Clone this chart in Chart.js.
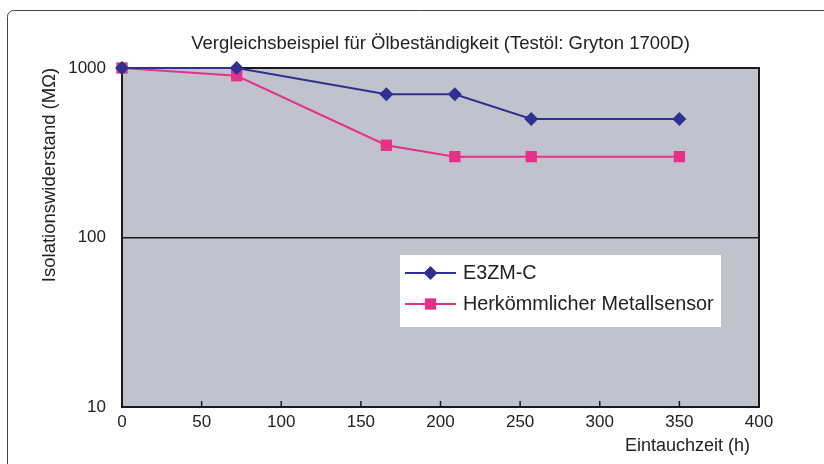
<!DOCTYPE html>
<html>
<head>
<meta charset="utf-8">
<script src="https://cdn.jsdelivr.net/npm/chart.js@4.4.1/dist/chart.umd.min.js"></script>
<style>
    html, body { margin: 0; padding: 0; background: #fff; }
    #wrap { width: 824px; height: 464px; position: relative; }
</style>
</head>
<body>
<div id="wrap"><canvas id="chart" width="824" height="464"></canvas></div>
<script>
// --- Data ---
const hoursE3ZM = [0, 72, 166, 209, 257, 350];
const valuesE3ZM = [1000, 1000, 700, 700, 500, 500];
const hoursMetal = [0, 72, 166, 209, 257, 350];
const valuesMetal = [1000, 900, 350, 300, 300, 300];
const seriesNames = ['E3ZM-C', 'Herkömmlicher Metallsensor'];
const xTicks = [0, 50, 100, 150, 200, 250, 300, 350, 400];
const yTickLabels = [10, 100, 1000];

const chartTitle = 'Vergleichsbeispiel für Ölbeständigkeit (Testöl: Gryton 1700D)';
const yTitle = 'Isolationswiderstand (MΩ)';
const xTitle = 'Eintauchzeit (h)';

const NAVY = '#2e3192';
const PINK = '#e5318c';
const PLOT_BG = '#c1c3cc';
const FONT = 'Arial, "Liberation Sans", sans-serif';

function toPoints(xs, ys) {
    return xs.map((x, i) => ({ x: x, y: ys[i] }));
}

// --- Plugin: frame, plot background, borders, ticks, titles, legend ---
const decorations = {
    id: 'decorations',
    beforeDraw(chart) {
        const { ctx, chartArea: a } = chart;
        ctx.save();
        // outer frame (top-left rounded corner only visible)
        ctx.strokeStyle = '#444';
        ctx.lineWidth = 1;
        ctx.beginPath();
        ctx.moveTo(7.5, 470);
        ctx.lineTo(7.5, 16.5);
        ctx.arcTo(7.5, 10.5, 13.5, 10.5, 6);
        ctx.lineTo(830, 10.5);
        ctx.stroke();
        // plot background
        ctx.fillStyle = PLOT_BG;
        ctx.fillRect(a.left, a.top, a.right - a.left, a.bottom - a.top);
        ctx.restore();
    },
    beforeDatasetsDraw(chart) {
        const { ctx, chartArea: a, scales } = chart;
        ctx.save();
        // plot border
        ctx.strokeStyle = '#1a1a1a';
        ctx.lineWidth = 2;
        ctx.strokeRect(a.left, a.top, a.right - a.left, a.bottom - a.top);
        // inward x tick marks
        ctx.lineWidth = 1.5;
        xTicks.forEach(v => {
            const px = scales.x.getPixelForValue(v);
            ctx.beginPath();
            ctx.moveTo(px, a.bottom);
            ctx.lineTo(px, a.bottom - 6);
            ctx.stroke();
        });
        ctx.restore();
    },
    afterDraw(chart) {
        const { ctx, chartArea: a } = chart;
        ctx.save();
        ctx.fillStyle = '#222';
        // title
        ctx.font = '18.5px ' + FONT;
        ctx.textAlign = 'center';
        ctx.textBaseline = 'middle';
        ctx.fillText(chartTitle, (a.left + a.right) / 2, 44);
        // x title
        ctx.font = '18px ' + FONT;
        ctx.textAlign = 'right';
        ctx.fillText(xTitle, 750, 446);
        // y title
        ctx.font = '18.5px ' + FONT;
        ctx.translate(50, 175);
        ctx.rotate(-Math.PI / 2);
        ctx.textAlign = 'center';
        ctx.fillText(yTitle, 0, 0);
        ctx.restore();

        // legend box
        ctx.save();
        const lx = 400, ly = 255, lw = 321, lh = 72;
        ctx.fillStyle = '#fff';
        ctx.fillRect(lx, ly, lw, lh);
        const rows = [
            { name: seriesNames[0], color: NAVY, style: 'rectRot', r: 7, y: 273 },
            { name: seriesNames[1], color: PINK, style: 'rect', r: 8, y: 304 }
        ];
        rows.forEach(row => {
            ctx.strokeStyle = row.color;
            ctx.lineWidth = 2;
            ctx.beginPath();
            ctx.moveTo(405, row.y);
            ctx.lineTo(456, row.y);
            ctx.stroke();
            ctx.fillStyle = row.color;
            Chart.helpers.drawPoint(ctx, { pointStyle: row.style, radius: row.r, borderWidth: 0 }, 430.5, row.y);
            ctx.fillStyle = '#222';
            ctx.font = '19.8px ' + FONT;
            ctx.textAlign = 'left';
            ctx.textBaseline = 'middle';
            ctx.fillText(row.name, 463, row.y + 1);
        });
        ctx.restore();
    }
};

const ctx = document.getElementById('chart').getContext('2d');
new Chart(ctx, {
    type: 'line',
    data: {
        datasets: [{
            label: seriesNames[0],
            data: toPoints(hoursE3ZM, valuesE3ZM),
            borderColor: NAVY,
            backgroundColor: NAVY,
            borderWidth: 2,
            pointStyle: 'rectRot',
            pointRadius: 7,
            pointBorderWidth: 0,
            tension: 0,
            clip: false
        }, {
            label: seriesNames[1],
            data: toPoints(hoursMetal, valuesMetal),
            borderColor: PINK,
            backgroundColor: PINK,
            borderWidth: 2,
            pointStyle: 'rect',
            pointRadius: 8,
            pointBorderWidth: 0,
            tension: 0,
            clip: false
        }]
    },
    options: {
        responsive: false,
        animation: false,
        layout: { padding: { top: 68, right: 65, left: 0, bottom: 0 } },
        plugins: {
            legend: { display: false },
            title: { display: false },
            tooltip: { enabled: false }
        },
        scales: {
            x: {
                type: 'linear',
                min: 0,
                max: 400,
                afterBuildTicks: scale => { scale.ticks = xTicks.map(v => ({ value: v })); },
                afterFit: scale => { scale.height = 57; },
                grid: { display: false, drawTicks: false },
                border: { display: false },
                ticks: {
                    color: '#222',
                    font: { family: FONT, size: 17 },
                    padding: 5,
                    maxRotation: 0
                }
            },
            y: {
                type: 'logarithmic',
                min: 10,
                max: 1000,
                afterBuildTicks: scale => { scale.ticks = yTickLabels.map(v => ({ value: v })); },
                afterFit: scale => { scale.width = 122; },
                grid: {
                    drawTicks: false,
                    color: c => (c.tick && c.tick.value === 100 ? '#1a1a1a' : 'rgba(0,0,0,0)'),
                    lineWidth: 1.5
                },
                border: { display: false },
                ticks: {
                    color: '#222',
                    font: { family: FONT, size: 17 },
                    padding: 16,
                    callback: v => String(v)
                }
            }
        }
    },
    plugins: [decorations]
});
</script>
</body>
</html>
